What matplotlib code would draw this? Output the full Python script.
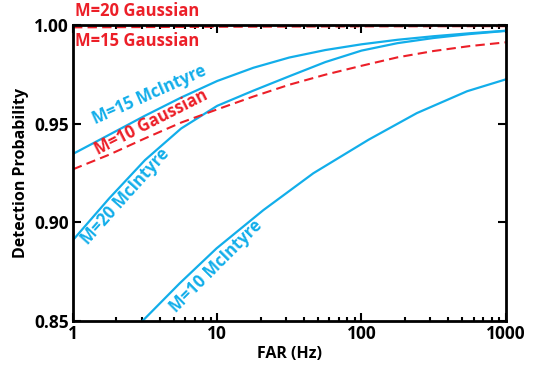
import matplotlib
matplotlib.use('Agg')
import matplotlib.pyplot as plt
from matplotlib.ticker import NullFormatter

plt.rcParams['font.family'] = ['Open Sans', 'DejaVu Sans']
plt.rcParams['font.weight'] = 'bold'

blue = '#12AEEA'
red = '#EC1F28'

far = [1, 1.78, 3.16, 5.62, 10, 17.8, 31.6, 56.2, 100, 178, 316, 562, 1000]
pd_m15_mc = [0.9346, 0.9443, 0.954, 0.9632, 0.9716, 0.9783, 0.9835, 0.9873, 0.9902, 0.9925, 0.9943, 0.9958, 0.9971]
pd_m20_mc = [0.8909, 0.912, 0.9315, 0.9475, 0.9590, 0.9667, 0.9740, 0.9812, 0.9870, 0.9908, 0.9934, 0.9954, 0.9970]
pd_m10_g = [0.9268, 0.9342, 0.9425, 0.9505, 0.9572, 0.9637, 0.9697, 0.9748, 0.9793, 0.9836, 0.9868, 0.9893, 0.9912]

far_m10_mc = [3.0, 5.5, 9.9, 20.9, 46.4, 112, 242, 540, 1000]
pd_m10_mc = [0.8495, 0.869, 0.8867, 0.9061, 0.9248, 0.9418, 0.9553, 0.9664, 0.9724]

far_top = [1, 10, 100, 1000]
pd_m15_g = [0.9988, 0.9991, 0.9993, 0.9994]
pd_m20_g = [0.9998, 0.9999, 0.9999, 0.9999]

fig = plt.figure(figsize=(5.39, 3.66), dpi=100)
ax = fig.add_axes([0.1354, 0.1238, 0.8028, 0.8079])

ax.plot(far, pd_m15_mc, color=blue, lw=1.6)
ax.plot(far, pd_m20_mc, color=blue, lw=1.6)
ax.plot(far_m10_mc, pd_m10_mc, color=blue, lw=1.6)
ax.plot(far, pd_m10_g, color=red, lw=1.5, dashes=(4.5, 2.5))
ax.plot(far_top, pd_m15_g, color=red, lw=1.5, dashes=(4.5, 2.5))
ax.plot(far_top, pd_m20_g, color=red, lw=1.5, dashes=(4.5, 2.5))

ax.set_xscale('log')
ax.set_xlim(1, 1000)
ax.set_ylim(0.85, 1.00)
ax.set_yticks([0.85, 0.90, 0.95, 1.00])
ax.set_yticklabels(['0.85', '0.90', '0.95', '1.00'])
ax.set_xticks([1, 10, 100, 1000])
ax.set_xticklabels(['1', '10', '100', '1000'])
ax.xaxis.set_minor_formatter(NullFormatter())

ax.tick_params(which='both', direction='in', top=True, right=True, width=1.5)
ax.tick_params(which='major', length=6, labelsize=12.5, pad=3)
ax.tick_params(which='minor', length=3)
ax.tick_params(axis='y', which='minor', left=False, right=False)
for lab in ax.get_xticklabels() + ax.get_yticklabels():
    lab.set_fontweight('bold')
for s in ax.spines.values():
    s.set_linewidth(2)

ax.set_xlabel('FAR (Hz)', fontsize=11.5, fontweight='bold', labelpad=2)
ax.set_ylabel('Detection Probability', fontsize=11.5, fontweight='bold', labelpad=4)

fs = 12
ax.text(1.03, 1.0025, 'M=20 Gaussian', color=red, fontsize=fs, fontweight='bold', va='bottom', ha='left', clip_on=False)
ax.text(1.03, 0.9965, 'M=15 Gaussian', color=red, fontsize=fs, fontweight='bold', va='top', ha='left')
ax.text(3.37, 0.9645, 'M=15 McIntyre', color=blue, fontsize=fs, fontweight='bold', rotation=24, ha='center', va='center', rotation_mode='anchor')
ax.text(3.51, 0.9505, 'M=10 Gaussian', color=red, fontsize=fs, fontweight='bold', rotation=27, ha='center', va='center', rotation_mode='anchor')
ax.text(2.29, 0.9129, 'M=20 McIntyre', color=blue, fontsize=fs, fontweight='bold', rotation=48, ha='center', va='center', rotation_mode='anchor')
ax.text(9.78, 0.8778, 'M=10 McIntyre', color=blue, fontsize=fs, fontweight='bold', rotation=45, ha='center', va='center', rotation_mode='anchor')

fig.savefig('out.png', dpi=100)
